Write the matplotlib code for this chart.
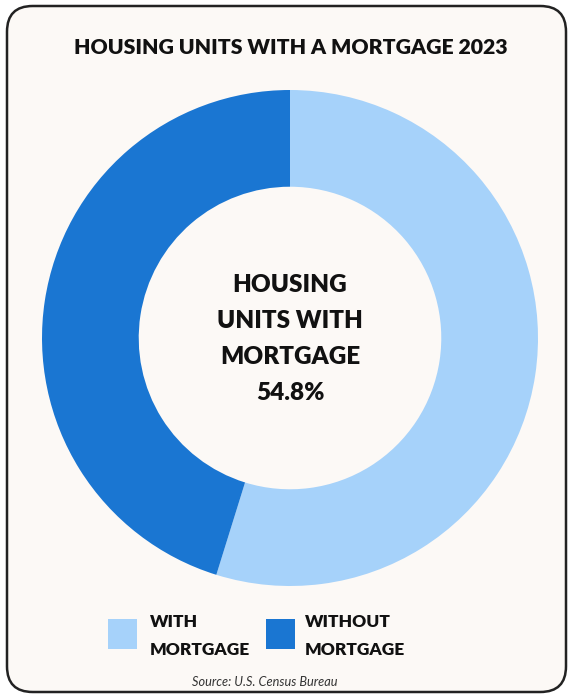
import matplotlib.pyplot as plt
from matplotlib.patches import FancyBboxPatch, Rectangle

W, H = 571, 697
DPI = 100

labels = ['WITH\nMORTGAGE', 'WITHOUT\nMORTGAGE']
shares = [54.8, 45.2]
colors = ['#A6D2FA', '#1A76D2']
title = 'HOUSING UNITS WITH A MORTGAGE 2023'
center_label = 'HOUSING\nUNITS WITH\nMORTGAGE\n54.8%'
source = 'Source: U.S. Census Bureau'

FONT = ['Lato', 'DejaVu Sans']
BG = '#FCF9F6'


def px(x, y):
    # pixel coords (from top-left) -> figure fraction
    return x / W, 1 - y / H


fig = plt.figure(figsize=(W / DPI, H / DPI), dpi=DPI)
fig.patch.set_facecolor('white')

# rounded card behind everything
x0, y0 = px(7, 692)
x1, y1 = px(566, 6)
card = FancyBboxPatch((x0, y0), x1 - x0, y1 - y0,
                      boxstyle='round,pad=0,rounding_size=0.045',
                      transform=fig.transFigure, facecolor=BG,
                      edgecolor='#222222', linewidth=1.8,
                      mutation_aspect=W / H, zorder=-5)
fig.patches.append(card)

# donut
cx, cy, r = 290, 338, 248
ax = fig.add_axes([(cx - r) / W, 1 - (cy + r) / H, 2 * r / W, 2 * r / H])
ax.set_zorder(2)
ax.set_facecolor('none')
ax.pie(shares, colors=colors, startangle=90, counterclock=False,
       radius=1, wedgeprops=dict(width=0.39, linewidth=0))
ax.set_xlim(-1, 1)
ax.set_ylim(-1, 1)
ax.axis('off')

ax.text(0, -0.005, center_label, ha='center', va='center', fontsize=17.5,
        fontweight='heavy', family=FONT, color='#111111', linespacing=1.78)

fig.text(*px(291, 48), title, ha='center', va='center', fontsize=15.3,
         fontweight='heavy', family=FONT, color='#111111')

# legend
for (lx, tx), lab, col in zip([(108, 150), (266, 305)], labels, colors):
    sx, sy = px(lx, 649)
    fig.patches.append(Rectangle((sx, sy), 29 / W, 30 / H, facecolor=col,
                                 edgecolor='none', transform=fig.transFigure,
                                 zorder=3))
    fig.text(*px(tx, 636), lab, ha='left', va='center', fontsize=12.5,
             fontweight='heavy', family=FONT, color='#111111',
             linespacing=1.85)

fig.text(*px(265, 682), source, ha='center', va='center', fontsize=9.2,
         style='italic', family=FONT, color='#333333')

fig.savefig('out.png', dpi=DPI, facecolor=fig.get_facecolor())
